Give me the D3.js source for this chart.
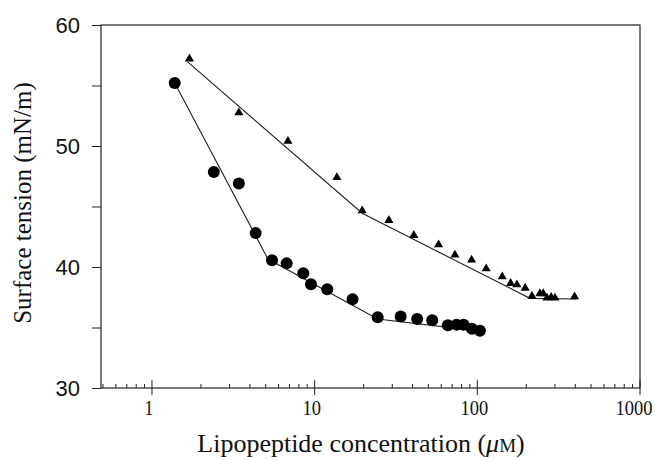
<!doctype html>
<html>
<head>
  <script src="https://d3js.org/d3.v7.min.js"></script>
	<style>
		body { margin: 0; background: #fff; }
		text { font-family: "Liberation Serif", "DejaVu Serif", serif; fill: #111; }
	</style>
</head>
<body>
<div id="container"></div>
<script>
	// circles: lipopeptide A
	var circX = [1.38, 2.40, 3.42, 4.34, 5.47, 6.73, 8.51, 9.49, 11.95, 17.1, 24.4, 33.8, 42.7, 52.8, 65.9, 74.6, 82.4, 92.6, 103.8];
	var circY = [55.2, 47.85, 46.9, 42.8, 40.55, 40.3, 39.48, 38.57, 38.16, 37.33, 35.84, 35.9, 35.7, 35.6, 35.18, 35.23, 35.23, 34.9, 34.74];
	// triangles: lipopeptide B
	var triX = [1.70, 3.42, 6.85, 13.7, 19.6, 28.6, 40.7, 57.8, 72.8, 92.2, 113.4, 142.3, 160.2, 175, 197, 216.6, 242.6, 254, 268, 284.6, 300, 396];
	var triY = [57.2, 52.75, 50.4, 47.4, 44.65, 43.86, 42.62, 41.84, 41.0, 40.58, 39.86, 39.2, 38.65, 38.54, 38.26, 37.6, 37.8, 37.8, 37.44, 37.5, 37.44, 37.55];
	// fitted line vertices
	var circFitX = [1.38, 5.16, 24.4, 103.8];
	var circFitY = [55.2, 40.66, 35.7, 34.7];
	var triFitX = [1.65, 19.6, 210.5, 407];
	var triFitY = [56.97, 44.44, 37.41, 37.35];
	var xTicks = [1, 10, 100, 1000];
	var yTicks = [30, 40, 50, 60];

	var width = 654, height = 460;
	var margin = {left: 101, right: 14, top: 25, bottom: 72};

	var svg = d3.select("#container").append("svg")
		.attr("width", width)
		.attr("height", height);

	var x = d3.scaleLog().domain([0.486, 1000]).range([margin.left, width - margin.right]);
	var y = d3.scaleLinear().domain([30, 60]).range([height - margin.bottom, margin.top]);

	// frame
	svg.append("rect")
		.attr("x", margin.left).attr("y", margin.top)
		.attr("width", width - margin.right - margin.left)
		.attr("height", height - margin.bottom - margin.top)
		.style("fill", "none").style("stroke", "#222").style("stroke-width", 1.2);

	// y axis
	var yAxis = svg.append("g")
		.attr("transform", "translate(" + margin.left + ",0)")
		.call(d3.axisLeft(y).tickValues(d3.range(30, 61, 5)).tickSize(9).tickFormat(function(d) { return yTicks.indexOf(d) >= 0 ? d : ""; }));
	yAxis.select(".domain").remove();
	yAxis.selectAll("text")
		.style("font-size", "22px")
		.style("font-family", "'Liberation Sans Narrow', 'Liberation Sans', sans-serif")
		.attr("x", -21);
	yAxis.selectAll("line").style("stroke", "#222");

	// x axis: minor ticks inside, majors crossing
	var minors = [];
	[0.1, 1, 10, 100].forEach(function(dec) {
		d3.range(2, 10).forEach(function(k) { if (dec * k > 0.486 && dec * k < 1000) minors.push(dec * k); });
	});
	var xb = height - margin.bottom;
	svg.selectAll(".minor").data(minors).enter().append("line")
		.attr("x1", function(d) { return x(d); }).attr("x2", function(d) { return x(d); })
		.attr("y1", xb).attr("y2", xb - 4)
		.style("stroke", "#222");
	svg.selectAll(".major").data(xTicks).enter().append("line")
		.attr("x1", function(d) { return x(d); }).attr("x2", function(d) { return x(d); })
		.attr("y1", xb - 8).attr("y2", xb + 7)
		.style("stroke", "#222");
	svg.selectAll(".xlab").data(xTicks).enter().append("text")
		.attr("transform", function(d) {
			var px = d === 1000 ? 634 : x(d) - 3;
			return "translate(" + px + "," + (xb + 27) + ") scale(0.88,1)";
		})
		.attr("text-anchor", "middle")
		.style("font-size", "21px")
		.text(function(d) { return d; });

	// axis titles
	var xt = svg.append("text")
		.attr("x", 361).attr("y", 452)
		.attr("text-anchor", "middle")
		.style("font-size", "26px")
		.text("Lipopeptide concentration (");
	xt.append("tspan").style("font-style", "italic").text("\u03bc");
	xt.append("tspan").style("font-size", "19px").text("M");
	xt.append("tspan").text(")");

	svg.append("text")
		.attr("transform", "translate(31,203) rotate(-90)")
		.attr("text-anchor", "middle")
		.style("font-size", "25px")
		.text("Surface tension (mN/m)");

	// fitted lines
	var line = d3.line().x(function(d) { return x(d[0]); }).y(function(d) { return y(d[1]); });
	svg.append("path").datum(d3.zip(circFitX, circFitY)).attr("d", line)
		.style("fill", "none").style("stroke", "#222").style("stroke-width", 1.1);
	svg.append("path").datum(d3.zip(triFitX, triFitY)).attr("d", line)
		.style("fill", "none").style("stroke", "#222").style("stroke-width", 1.1);

	// markers
	svg.selectAll(".circ").data(d3.zip(circX, circY)).enter().append("circle")
		.attr("cx", function(d) { return x(d[0]); })
		.attr("cy", function(d) { return y(d[1]); })
		.attr("r", 6)
		.style("fill", "#000");
	svg.selectAll(".tri").data(d3.zip(triX, triY)).enter().append("path")
		.attr("d", d3.symbol().type(d3.symbolTriangle).size(36))
		.attr("transform", function(d) { return "translate(" + x(d[0]) + "," + y(d[1]) + ")"; })
		.style("fill", "#000");
</script>
</body>
</html>
